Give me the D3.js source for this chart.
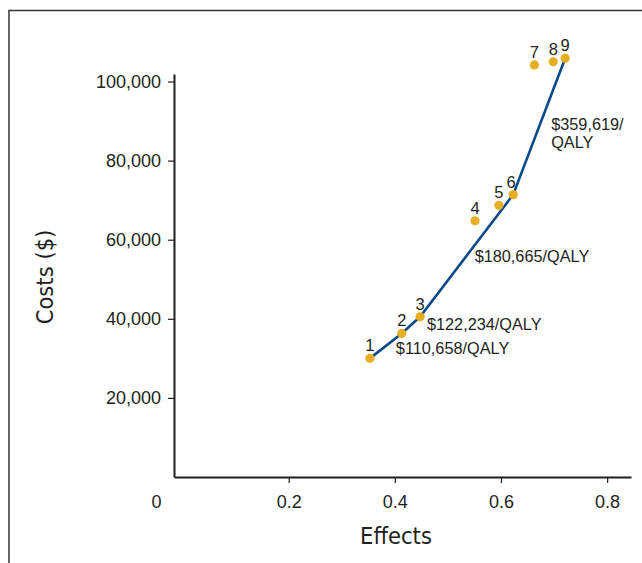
<!DOCTYPE html>
<html>
<head>
<meta charset="utf-8">
<script src="https://cdn.jsdelivr.net/npm/d3@7"></script>
<style>
  body { margin: 0; background: #fff; }
  svg text { fill: #231f20; font-family: "Liberation Sans", Arial, sans-serif; }
</style>
</head>
<body>
<svg width="642" height="563"></svg>
<script>
// strategies: effects (QALY) and costs ($)
var labels  = ["1", "2", "3", "4", "5", "6", "7", "8", "9"];
var effects = [0.353, 0.413, 0.4475, 0.551, 0.596, 0.623, 0.663, 0.6985, 0.721];
var costs   = [30000, 36300, 40500, 64800, 68700, 71400, 104200, 105000, 105900];

// efficient frontier (indexes into the arrays above) and ICER labels per segment
var frontier = [0, 1, 2, 5, 8];
var icers = [["$110,658/QALY"], ["$122,234/QALY"], ["$180,665/QALY"], ["$359,619/", "QALY"]];

var xTicks = [0.2, 0.4, 0.6, 0.8];
var yTicks = [20000, 40000, 60000, 80000, 100000];

var data = labels.map(function(l, i) { return {label: l, x: effects[i], y: costs[i]}; });

var svg = d3.select("svg");

// outer frame (runs off the right and bottom edges)
svg.append("rect")
    .attr("x", 9).attr("y", 10.5)
    .attr("width", 700).attr("height", 600)
    .style("fill", "none").style("stroke", "#333").style("stroke-width", 1.5);

// set the ranges
var x = d3.scaleLinear().domain([-0.0162, 0.845]).range([174, 631]);
var y = d3.scaleLinear().domain([0, 101900]).range([477, 74]);

// x axis
var gx = svg.append("g")
    .attr("transform", "translate(0," + y(0) + ")")
    .call(d3.axisBottom(x).tickValues(xTicks).tickSize(6).tickSizeOuter(0)
      .tickFormat(d3.format(".1f")));
gx.select(".domain").style("stroke", "#231f20").style("stroke-width", 2);
gx.selectAll(".tick line").style("stroke", "#231f20").style("stroke-width", 1.2);
gx.selectAll(".tick text").attr("y", 0).attr("dy", null).attr("transform", "translate(0,31)")
    .style("font-size", "18px").style("fill", "#231f20");

// shared origin label
svg.append("text")
    .attr("x", x(0) - 26).attr("y", y(0) + 31)
    .attr("text-anchor", "middle")
    .style("font-size", "18px")
    .text("0");

// y axis
var gy = svg.append("g")
    .attr("transform", "translate(" + x.range()[0] + ",0)")
    .call(d3.axisLeft(y).tickValues(yTicks).tickSize(6).tickPadding(7).tickSizeOuter(0)
      .tickFormat(d3.format(",")));
gy.select(".domain").style("stroke", "#231f20").style("stroke-width", 2);
gy.selectAll(".tick line").style("stroke", "#231f20").style("stroke-width", 1.2);
gy.selectAll(".tick text").style("font-size", "18px").style("fill", "#231f20")
    .style("font-family", "Liberation Sans, Arial, sans-serif");

// axis titles
svg.append("text")
    .attr("x", 396).attr("y", 544)
    .attr("text-anchor", "middle")
    .style("font-family", "'Liberation Sans Narrow', 'DejaVu Sans Condensed', sans-serif")
    .style("font-size", "23.5px")
    .text("Effects");

svg.append("text")
    .attr("transform", "translate(53,277) rotate(-90)")
    .attr("text-anchor", "middle")
    .style("font-family", "'Liberation Sans Narrow', 'DejaVu Sans Condensed', sans-serif")
    .style("font-size", "23.5px")
    .text("Costs ($)");

// frontier line
var valueline = d3.line()
    .x(function(d) { return x(d.x); })
    .y(function(d) { return y(d.y); });

var front = frontier.map(function(i) { return data[i]; });
svg.append("path")
    .data([front])
    .style("stroke", "#0b4a88")
    .style("stroke-width", 2.6)
    .style("fill", "none")
    .attr("d", valueline);

// points
svg.selectAll(".dot")
    .data(data)
    .enter().append("circle")
    .attr("class", "dot")
    .attr("cx", function(d) { return x(d.x); })
    .attr("cy", function(d) { return y(d.y); })
    .attr("r", 4.6)
    .style("fill", "#e7ae22");

svg.selectAll(".num")
    .data(data)
    .enter().append("text")
    .attr("class", "num")
    .attr("x", function(d) { return x(d.x) - (d.label === "6" ? 2 : 0); })
    .attr("y", function(d) { return y(d.y) - 7; })
    .attr("text-anchor", "middle")
    .style("font-size", "16.5px")
    .text(function(d) { return d.label; });

// ICER labels, placed from the midpoint of each frontier segment
var offsets = [[10, 8], [16, 5], [8, 6], [12, 4]];
icers.forEach(function(lines, k) {
  var a = front[k], b = front[k + 1];
  var mx = (x(a.x) + x(b.x)) / 2, my = (y(a.y) + y(b.y)) / 2;
  var t = svg.append("text")
      .attr("x", mx + offsets[k][0]).attr("y", my + offsets[k][1])
      .style("font-size", "16.3px");
  lines.forEach(function(s, j) {
    t.append("tspan")
      .attr("x", mx + offsets[k][0])
      .attr("dy", j === 0 ? 0 : 18)
      .text(s);
  });
});
</script>
</body>
</html>
